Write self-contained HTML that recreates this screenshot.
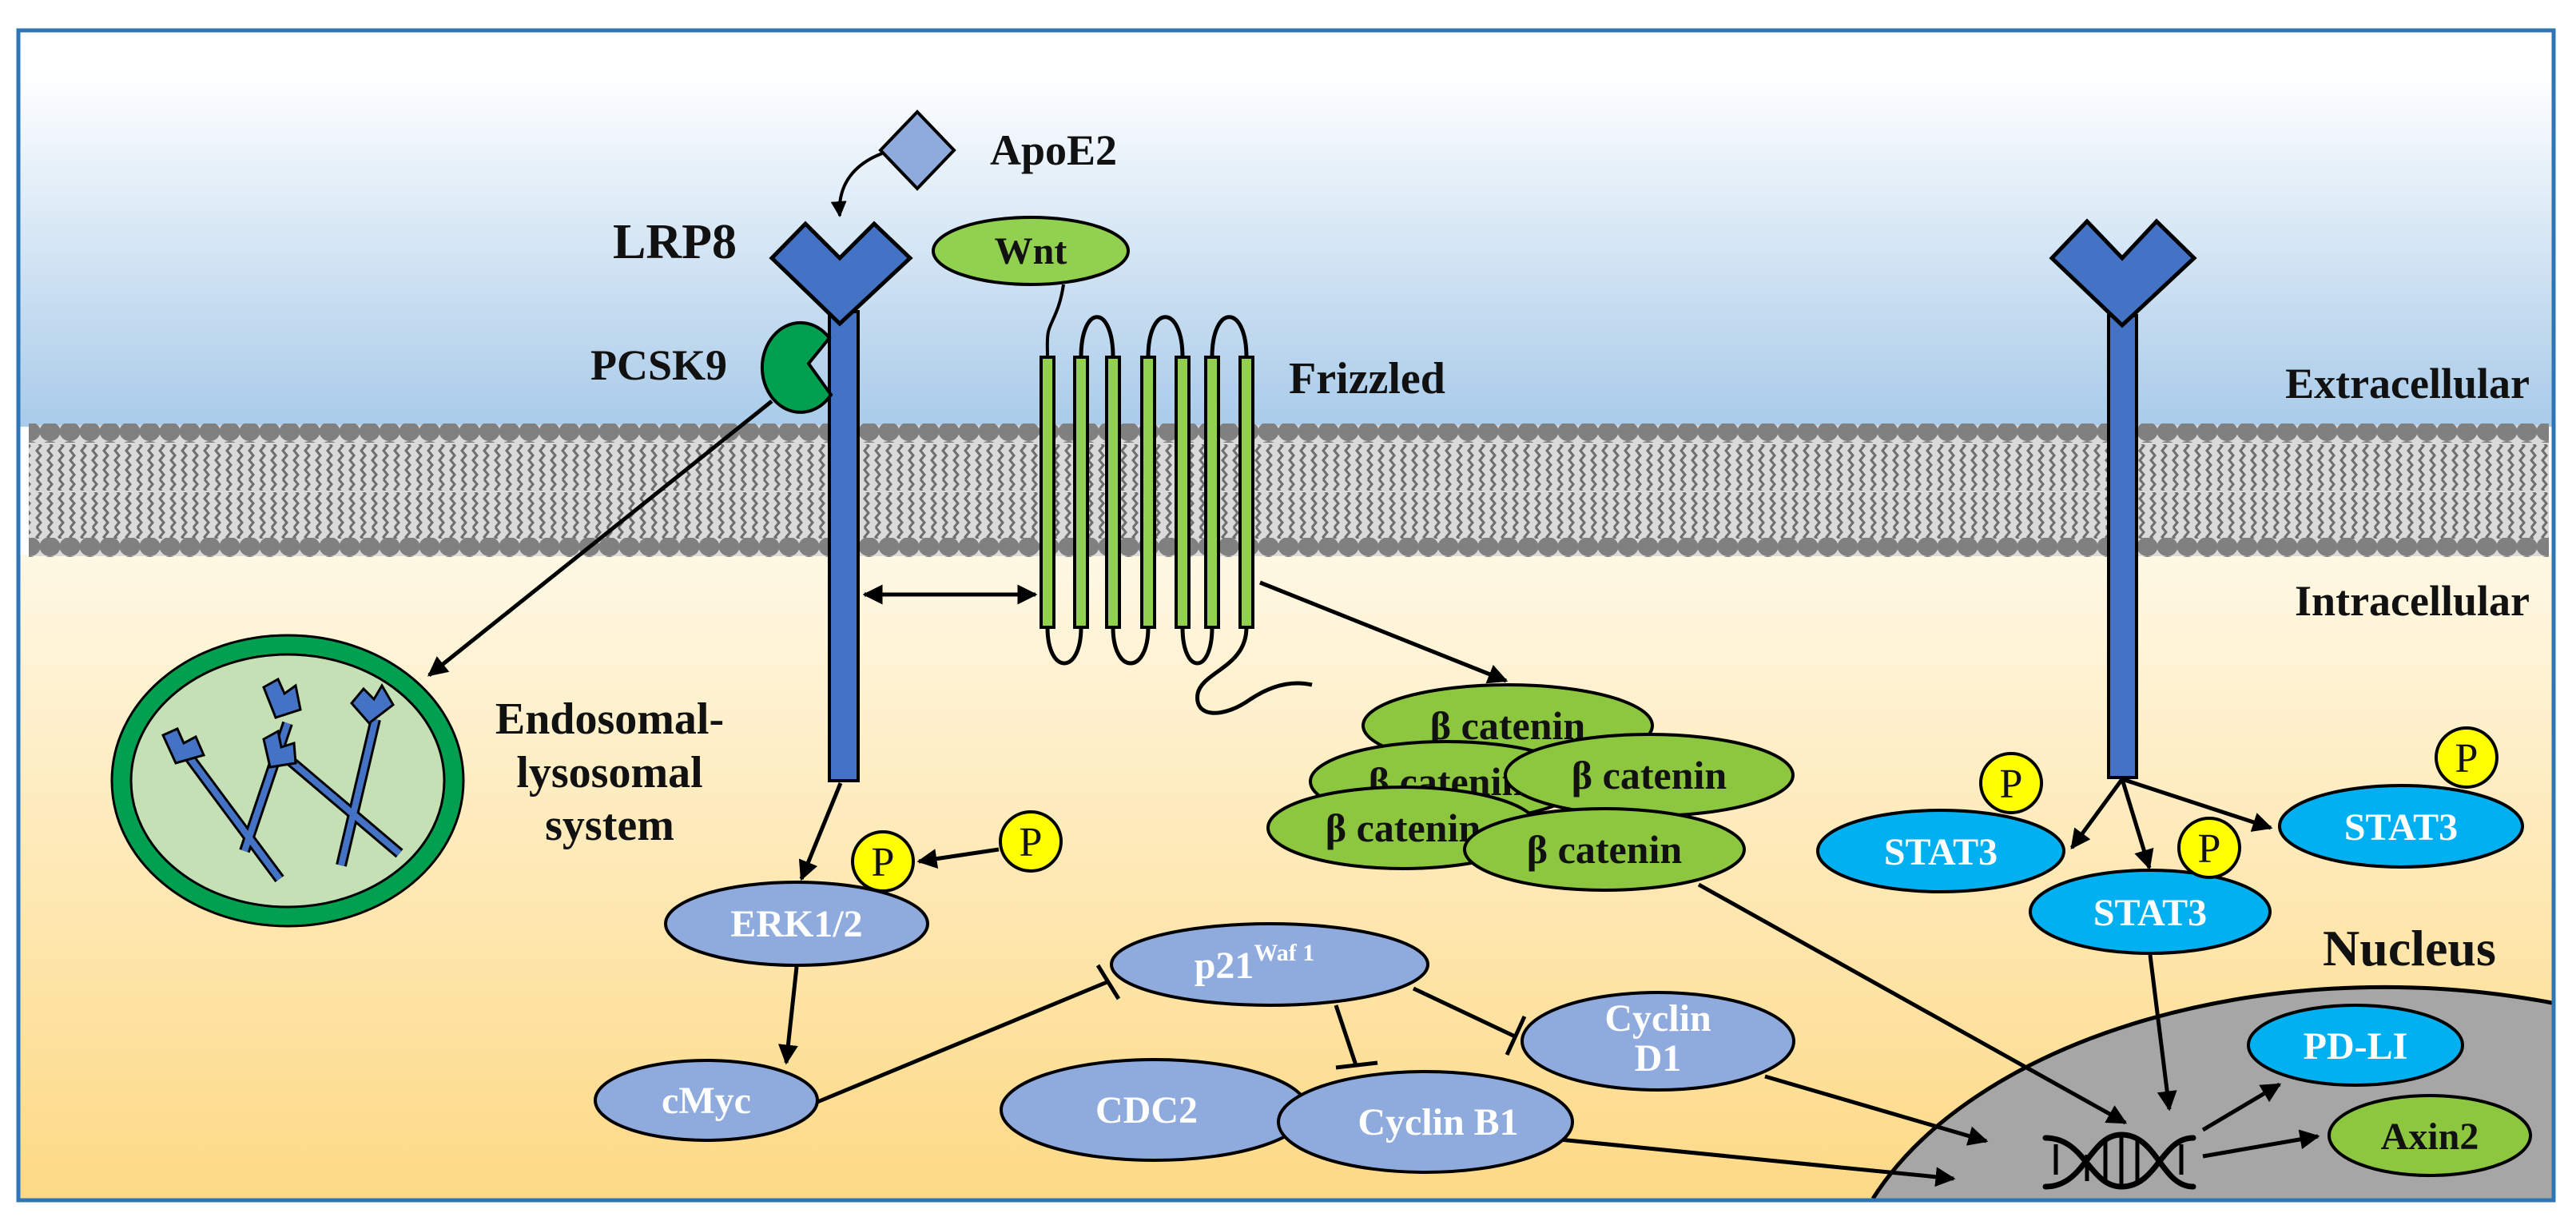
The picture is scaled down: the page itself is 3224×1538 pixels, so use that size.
<!DOCTYPE html>
<html><head><meta charset="utf-8"><style>html,body{margin:0;padding:0;background:#fff;width:3224px;height:1538px;overflow:hidden}svg{display:block}</style></head>
<body>
<svg width="3224" height="1538" viewBox="0 0 3224 1538" xmlns="http://www.w3.org/2000/svg" font-family="'Liberation Serif', serif">
<defs>
<linearGradient id="gTop" x1="0" y1="0" x2="0" y2="1">
<stop offset="0" stop-color="#ffffff"/><stop offset="0.12" stop-color="#fdfeff"/><stop offset="1" stop-color="#a9cbe9"/></linearGradient>
<linearGradient id="gBot" x1="0" y1="0" x2="0" y2="1">
<stop offset="0" stop-color="#fef8e4"/><stop offset="1" stop-color="#fdd985"/></linearGradient>
<pattern id="heads" width="25" height="24" patternUnits="userSpaceOnUse">
<ellipse cx="12.5" cy="12" rx="13" ry="12" fill="#808080"/></pattern>
<pattern id="tails" width="14" height="60" patternUnits="userSpaceOnUse">
<path d="M4,0 l5,6 l-5,6 l5,6 l-5,6 l5,6 l-5,6 l5,6 l-5,6 l5,6 l-5,6" fill="none" stroke="#6e6e6e" stroke-width="3"/></pattern>
<marker id="ar" viewBox="0 0 10 10" refX="9" refY="5" markerWidth="5" markerHeight="5" orient="auto-start-reverse"><path d="M0,0 L10,5 L0,10 z" fill="#000"/></marker>
</defs>

<rect x="25" y="40" width="3169" height="494" fill="url(#gTop)"/>
<rect x="25" y="694" width="3169" height="808" fill="url(#gBot)"/>
<!-- membrane -->
<rect x="36" y="532" width="3154" height="164" fill="#dadada"/>
<rect x="36" y="530" width="3154" height="24" fill="url(#heads)"/>
<rect x="36" y="556" width="3154" height="58" fill="url(#tails)"/>
<rect x="36" y="616" width="3154" height="58" fill="url(#tails)"/>
<rect x="36" y="673" width="3154" height="24" fill="url(#heads)"/>

<!-- nucleus -->
<path d="M2344,1500 A685,410 0 0 1 3194,1255 L3194,1500 Z" fill="#a6a6a6"/>
<path d="M2344,1500 A685,410 0 0 1 3194,1255" fill="none" stroke="#000" stroke-width="5"/>

<!-- frame -->
<rect x="23" y="38" width="3173" height="1464" fill="none" stroke="#2e75b6" stroke-width="5"/>

<!-- labels -->
<g font-weight="bold" fill="#111">
<text x="1239" y="206" font-size="54">ApoE2</text>
<text x="922" y="323" font-size="62" text-anchor="end">LRP8</text>
<text x="910" y="475" font-size="54" text-anchor="end">PCSK9</text>
<text x="1613" y="492" font-size="56">Frizzled</text>
<text x="3166" y="498" font-size="54" text-anchor="end">Extracellular</text>
<text x="3166" y="770" font-size="54" text-anchor="end">Intracellular</text>
<text x="763" y="918" font-size="56" text-anchor="middle">Endosomal-</text>
<text x="763" y="985" font-size="56" text-anchor="middle">lysosomal</text>
<text x="763" y="1051" font-size="56" text-anchor="middle">system</text>
<text x="2907" y="1208" font-size="64">Nucleus</text>
</g>

<!-- ApoE2 -->
<polygon points="1148,140 1194,188 1148,236 1102,188" fill="#8faadc" stroke="#000" stroke-width="4"/>
<path d="M1104,192 C1070,205 1048,230 1051,270" fill="none" stroke="#000" stroke-width="4" marker-end="url(#ar)"/>

<!-- LRP8 receptor -->
<rect x="1038" y="390" width="36" height="587" fill="#4472c4" stroke="#000" stroke-width="4"/>
<polygon points="1008,280 1051,323 1094,280 1139,323 1051,405 966,323" fill="#4472c4" stroke="#000" stroke-width="5"/>
<!-- PCSK9 -->
<path d="M1038,423 A48,56 0 1 0 1040,494 L1012,455 Z" fill="#00a050" stroke="#000" stroke-width="4"/>

<!-- right receptor -->
<rect x="2639" y="395" width="35" height="578" fill="#4472c4" stroke="#000" stroke-width="4"/>
<polygon points="2612,277 2656,323 2699,277 2746,323 2656,407 2568,323" fill="#4472c4" stroke="#000" stroke-width="5"/>

<!-- Wnt & Frizzled -->
<path d="M1331,356 C1326,390 1316,400 1312,415 C1310,425 1311,435 1311,447" fill="none" stroke="#000" stroke-width="4"/>
<ellipse cx="1290" cy="314" rx="122" ry="42" fill="#92d050" stroke="#000" stroke-width="4"/>
<text x="1290" y="330" font-size="48" font-weight="bold" text-anchor="middle" fill="#111">Wnt</text>
<g fill="none" stroke="#000" stroke-width="5">
<path d="M1353,447 C1353,380 1393,380 1393,447"/>
<path d="M1437,447 C1437,380 1480,380 1480,447"/>
<path d="M1517,447 C1517,380 1560,380 1560,447"/>
<path d="M1311,785 C1311,845 1353,845 1353,785"/>
<path d="M1393,785 C1393,845 1437,845 1437,785"/>
<path d="M1480,785 C1480,845 1517,845 1517,785"/>
<path d="M1560,785 C1560,835 1505,840 1499,868 C1494,898 1530,900 1565,875 C1595,855 1620,852 1642,857"/>
</g>
<g fill="#92d050" stroke="#000" stroke-width="4">
<rect x="1303" y="447" width="16" height="338"/><rect x="1345" y="447" width="16" height="338"/>
<rect x="1385" y="447" width="16" height="338"/><rect x="1429" y="447" width="16" height="338"/>
<rect x="1472" y="447" width="16" height="338"/><rect x="1509" y="447" width="16" height="338"/>
<rect x="1552" y="447" width="16" height="338"/>
</g>

<!-- endosome -->
<ellipse cx="360" cy="977" rx="208" ry="170" fill="#c5e0b4" stroke="#000" stroke-width="3"/>
<ellipse cx="360" cy="977" rx="208" ry="170" fill="none" stroke="#00a050" stroke-width="22"/>
<ellipse cx="360" cy="977" rx="220" ry="182" fill="none" stroke="#000" stroke-width="3"/>
<ellipse cx="360" cy="977" rx="196" ry="158" fill="none" stroke="#000" stroke-width="3"/>
<g>
<g stroke="#000" stroke-width="14"><line x1="235" y1="945" x2="350" y2="1100"/><line x1="360" y1="905" x2="306" y2="1065"/><line x1="470" y1="900" x2="427" y2="1083"/><line x1="355" y1="945" x2="500" y2="1068"/></g>
<g stroke="#4472c4" stroke-width="8"><line x1="235" y1="945" x2="350" y2="1100"/><line x1="360" y1="905" x2="306" y2="1065"/><line x1="470" y1="900" x2="427" y2="1083"/><line x1="355" y1="945" x2="500" y2="1068"/></g>
</g>
<g fill="#4472c4" stroke="#000" stroke-width="3">
<polygon points="204,920 222,912 230,930 245,922 255,945 220,955"/>
<polygon points="330,860 348,850 356,868 370,858 376,888 345,898"/>
<polygon points="440,880 455,862 468,875 478,858 492,882 462,905"/>
<polygon points="330,925 348,915 352,935 368,930 370,955 338,960"/>
</g>

<!-- connectors -->
<g fill="none" stroke="#000" stroke-width="5">
<line x1="966" y1="502" x2="537" y2="845" marker-end="url(#ar)"/>
<line x1="1082" y1="744" x2="1296" y2="744" marker-start="url(#ar)" marker-end="url(#ar)"/>
<line x1="1577" y1="729" x2="1885" y2="852" marker-end="url(#ar)"/>
<line x1="1052" y1="980" x2="1003" y2="1100" marker-end="url(#ar)"/>
<line x1="1250" y1="1063" x2="1150" y2="1078" marker-end="url(#ar)"/>
<line x1="997" y1="1210" x2="984" y2="1330" marker-end="url(#ar)"/>
<line x1="1023" y1="1379" x2="1388" y2="1228"/>
<line x1="1374" y1="1208" x2="1400" y2="1250"/>
<line x1="1672" y1="1258" x2="1697" y2="1333"/>
<line x1="1672" y1="1336" x2="1724" y2="1330"/>
<line x1="1769" y1="1237" x2="1896" y2="1297"/>
<line x1="1908" y1="1272" x2="1886" y2="1320"/>
<line x1="1821" y1="1413" x2="2445" y2="1475" marker-end="url(#ar)"/>
<line x1="2209" y1="1347" x2="2486" y2="1428" marker-end="url(#ar)"/>
<line x1="2126" y1="1107" x2="2660" y2="1405" marker-end="url(#ar)"/>
<line x1="2691" y1="1195" x2="2715" y2="1388" marker-end="url(#ar)"/>
<line x1="2757" y1="1414" x2="2853" y2="1357" marker-end="url(#ar)"/>
<line x1="2757" y1="1447" x2="2901" y2="1422" marker-end="url(#ar)"/>
<line x1="2656" y1="975" x2="2593" y2="1061" marker-end="url(#ar)"/>
<line x1="2656" y1="975" x2="2690" y2="1086" marker-end="url(#ar)"/>
<line x1="2656" y1="975" x2="2842" y2="1036" marker-end="url(#ar)"/>
</g>

<!-- DNA -->
<g fill="none" stroke="#000" stroke-width="7" stroke-linecap="round">
<path d="M2560,1424 C2610,1424 2615,1485 2655,1485 C2700,1485 2705,1424 2745,1424"/>
<path d="M2560,1485 C2610,1485 2615,1420 2655,1420 C2700,1420 2705,1485 2745,1485"/>
</g>
<g stroke="#000" stroke-width="5"><line x1="2573" y1="1432" x2="2573" y2="1470"/><line x1="2612" y1="1445" x2="2612" y2="1478"/><line x1="2635" y1="1425" x2="2635" y2="1480"/><line x1="2655" y1="1422" x2="2655" y2="1483"/><line x1="2675" y1="1425" x2="2675" y2="1480"/><line x1="2730" y1="1432" x2="2730" y2="1470"/></g>

<!-- beta catenins -->
<g fill="#8dc63f" stroke="#000" stroke-width="4" font-size="50" font-weight="bold">
<ellipse cx="1887" cy="908" rx="181" ry="51"/>
<text x="1887" y="925" text-anchor="middle" fill="#111" stroke="none">β catenin</text>
<ellipse cx="1810" cy="978" rx="170" ry="50"/>
<text x="1810" y="995" text-anchor="middle" fill="#111" stroke="none">β catenin</text>
<ellipse cx="1756" cy="1036" rx="169" ry="51"/>
<text x="1756" y="1053" text-anchor="middle" fill="#111" stroke="none">β catenin</text>
<ellipse cx="2064" cy="970" rx="180" ry="51"/>
<text x="2064" y="987" text-anchor="middle" fill="#111" stroke="none">β catenin</text>
<ellipse cx="2008" cy="1063" rx="175" ry="51"/>
<text x="2008" y="1080" text-anchor="middle" fill="#111" stroke="none">β catenin</text>
</g>

<!-- blue nodes -->
<g fill="#8faadc" stroke="#000" stroke-width="4">
<ellipse cx="997" cy="1156" rx="164" ry="52"/>
<ellipse cx="884" cy="1377" rx="139" ry="50"/>
<ellipse cx="1589" cy="1207" rx="198" ry="51"/>
<ellipse cx="1445" cy="1389" rx="192" ry="63"/>
<ellipse cx="1784" cy="1404" rx="184" ry="63"/>
<ellipse cx="2075" cy="1303" rx="170" ry="61"/>
</g>
<g fill="#fff" font-weight="bold" font-size="48" text-anchor="middle">
<text x="997" y="1172">ERK1/2</text>
<text x="884" y="1393">cMyc</text>
<text x="1570" y="1224">p21<tspan font-size="30" dy="-22">Waf 1</tspan></text>
<text x="1435" y="1405">CDC2</text>
<text x="1800" y="1420">Cyclin B1</text>
<text x="2075" y="1290">Cyclin</text>
<text x="2075" y="1340">D1</text>
</g>

<!-- STAT3 & PD-LI -->
<g fill="#00b0f0" stroke="#000" stroke-width="4">
<ellipse cx="2429" cy="1065" rx="154" ry="51"/>
<ellipse cx="2691" cy="1141" rx="150" ry="52"/>
<ellipse cx="3005" cy="1034" rx="152" ry="51"/>
<ellipse cx="2948" cy="1308" rx="134" ry="50"/>
</g>
<ellipse cx="3041" cy="1421" rx="126" ry="50" fill="#8dc63f" stroke="#000" stroke-width="4"/>
<g fill="#fff" font-weight="bold" font-size="48" text-anchor="middle">
<text x="2429" y="1082">STAT3</text>
<text x="2691" y="1158">STAT3</text>
<text x="3005" y="1051">STAT3</text>
<text x="2948" y="1325">PD-LI</text>
</g>
<text x="3041" y="1438" fill="#111" font-weight="bold" font-size="48" text-anchor="middle">Axin2</text>

<!-- P circles -->
<g fill="#ffff00" stroke="#000" stroke-width="4">
<ellipse cx="1105" cy="1078" rx="38" ry="37"/><ellipse cx="1290" cy="1053" rx="38" ry="37"/>
<ellipse cx="2517" cy="980" rx="38" ry="37"/><ellipse cx="2765" cy="1061" rx="38" ry="37"/>
<ellipse cx="3087" cy="948" rx="38" ry="37"/>
</g>
<g fill="#111" font-size="52" text-anchor="middle">
<text x="1105" y="1096">P</text><text x="1290" y="1071">P</text>
<text x="2517" y="998">P</text><text x="2765" y="1079">P</text><text x="3087" y="966">P</text>
</g>
</svg>
</body></html>
